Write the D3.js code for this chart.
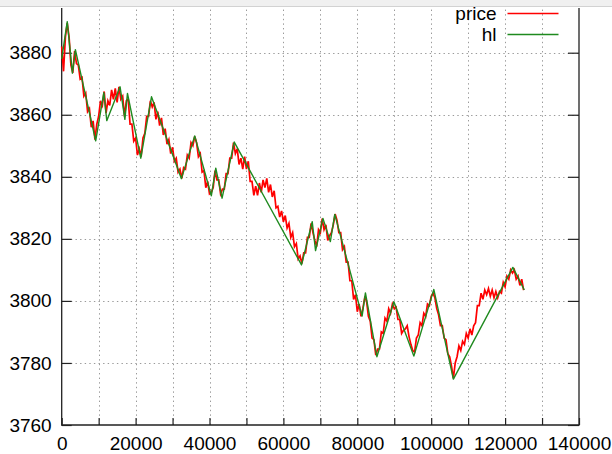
<!DOCTYPE html>
<html>
<head>
<meta charset="utf-8">
<script src="https://cdn.jsdelivr.net/npm/d3@7"></script>
<style>
  html, body { margin: 0; padding: 0; background: #fff; }
  svg { display: block; }
  .tick text { font-family: "Liberation Sans", Arial, sans-serif; font-size: 19px; fill: #000; }
</style>
</head>
<body>
<script>
// Price samples, one every priceStep time units starting at 0
const priceStep = 500;
const priceValues = [
  3882, 3874, 3885, 3889.5, 3885, 3876, 3873.5, 3880.5, 3876.5, 3876,
  3871.5, 3872, 3866, 3867, 3861, 3862, 3856, 3858, 3852, 3857,
  3859.5, 3864.5, 3863, 3867.5, 3860.5, 3864.5, 3863, 3868, 3865, 3868.5,
  3864, 3869, 3865, 3866, 3859.5, 3864.5, 3865, 3857, 3857, 3851.5,
  3852.5, 3847, 3849, 3846.5, 3852.5, 3854, 3859.5, 3859.5, 3864.5, 3862.5,
  3864, 3858.5, 3861, 3856.5, 3859, 3853.5, 3855.5, 3850.5, 3852, 3847.5,
  3849.5, 3845, 3846, 3841.5, 3842.5, 3839.5, 3843, 3842.5, 3847, 3846,
  3851, 3850, 3853, 3851, 3846.5, 3847.5, 3841.5, 3842, 3836.5, 3838.5,
  3834.5, 3835, 3836.5, 3842, 3839, 3839, 3834.5, 3836, 3836, 3841,
  3841, 3846, 3846, 3851, 3847.5, 3849, 3844, 3846, 3842.5, 3846.5,
  3842.5, 3845, 3838.5, 3838.5, 3834, 3837, 3834, 3838, 3835, 3839,
  3836.5, 3839.5, 3835, 3837.5, 3833.5, 3835.5, 3830, 3830.5, 3827, 3829,
  3825.5, 3827.5, 3823.5, 3825, 3820.5, 3822, 3817.5, 3818.5, 3813.5, 3814.5,
  3812, 3815.5, 3815.5, 3820.5, 3820.5, 3825, 3822, 3819.5, 3817.5, 3823,
  3822, 3826.5, 3823, 3824.5, 3819.5, 3821, 3822, 3824.5, 3828, 3826,
  3822, 3822, 3816.5, 3817.5, 3812.5, 3812.5, 3806.5, 3806.5, 3800.5, 3802,
  3796.5, 3799, 3795, 3797.5, 3801, 3800, 3795, 3793.5, 3788, 3787.5,
  3782.5, 3784.5, 3784.5, 3790, 3789.5, 3794.5, 3793.5, 3797.5, 3796, 3799,
  3797.5, 3798, 3794, 3794, 3789.5, 3790.5, 3791, 3792, 3788.5, 3786,
  3784, 3783.5, 3788, 3789, 3793, 3792, 3796, 3795, 3799, 3798.5,
  3801.5, 3802.5, 3801, 3797.5, 3795.5, 3792, 3792, 3788, 3787.5, 3783,
  3782, 3779, 3775, 3780, 3782, 3785.5, 3784, 3787, 3786, 3789.5,
  3788, 3791, 3789, 3792, 3793, 3798.5, 3798.5, 3802.5, 3800.5, 3803.5,
  3802, 3804, 3801.5, 3803.5, 3801, 3803, 3801, 3803, 3802.5, 3806,
  3804.5, 3808, 3807, 3810, 3809, 3810, 3807, 3808, 3805, 3807,
  3803.5
];

// Turning points of the high/low zigzag
const hlTimes = [
  0, 1500, 2900, 3700, 9200, 11400, 12200, 15800, 17100, 17800,
  21400, 24300, 32400, 36000, 40500, 41700, 43400, 46700, 64900, 67800,
  68700, 70700, 72700, 73900, 81300, 82200, 85300, 89900, 95300, 100700,
  106000, 122100, 125200
];
const hlValues = [
  3878, 3890, 3873.4, 3881, 3851.6, 3867.1, 3858.1, 3869, 3858.5, 3866.9,
  3846, 3865.8, 3839.4, 3853.2, 3833.9, 3842.8, 3833.1, 3851.2, 3811.6, 3825.5,
  3816.2, 3826.6, 3819.1, 3827.9, 3795.1, 3802.6, 3782, 3799.7, 3782.2, 3803.7,
  3774.8, 3810.8, 3803.5
];

// Axis ticks
const xTickValues = [0, 10000, 20000, 30000, 40000, 50000, 60000, 70000,
                     80000, 90000, 100000, 110000, 120000, 130000, 140000];
const xLabelValues = [0, 20000, 40000, 60000, 80000, 100000, 120000, 140000];
const yTickValues = [3760, 3780, 3800, 3820, 3840, 3860, 3880];

const seriesNames = ["price", "hl"];
const seriesColors = ["#ff0000", "#1f8a1f"];

const W = 612, H = 454;
const left = 61.7, right = 579, bottom = 425, frameTop = 8;

const svg = d3.select("body").append("svg")
  .attr("width", W).attr("height", H);

const x = d3.scaleLinear().domain([0, 140000]).range([left, right]);
const y = d3.scaleLinear().domain([3760, 3900]).range([bottom, bottom - 140 * 3.1025]);

// dotted grid
const grid = svg.append("g")
  .attr("stroke", "#9a9a9a")
  .attr("stroke-width", 1)
  .attr("stroke-dasharray", "1.4,3.2");
grid.selectAll("line.gx")
  .data(xTickValues.filter(v => v > 0 && v < 140000))
  .join("line").attr("class", "gx")
  .attr("x1", d => Math.round(x(d)) + 0.5).attr("x2", d => Math.round(x(d)) + 0.5)
  .attr("y1", bottom).attr("y2", frameTop);
grid.selectAll("line.gy")
  .data(yTickValues.filter(v => v > 3760))
  .join("line").attr("class", "gy")
  .attr("y1", d => Math.round(y(d)) + 0.5).attr("y2", d => Math.round(y(d)) + 0.5)
  .attr("x1", left).attr("x2", right);

// axes with inward ticks
const labelSet = new Set(xLabelValues);
const xAxis = d3.axisBottom(x)
  .tickValues(xTickValues)
  .tickSize(-7)
  .tickPadding(12)
  .tickFormat(d => labelSet.has(d) ? String(d) : "");
const yAxis = d3.axisLeft(y)
  .tickValues(yTickValues)
  .tickSize(-10)
  .tickPadding(10)
  .tickFormat(d => String(d));
const yAxisR = d3.axisRight(y)
  .tickValues(yTickValues)
  .tickSize(-11)
  .tickFormat("");

function styleAxis(g) {
  g.select(".domain").remove();
  g.selectAll(".tick line").attr("stroke", "#222").attr("stroke-width", 1.2);
}
svg.append("g").attr("transform", `translate(0,${bottom})`).call(xAxis).call(styleAxis);
svg.append("g").attr("transform", `translate(${left},0)`).call(yAxis).call(styleAxis);
svg.append("g").attr("transform", `translate(${right},0)`).call(yAxisR).call(styleAxis);

// frame
svg.append("path")
  .attr("d", `M${left},${frameTop}V${bottom}H${right}V${frameTop}`)
  .attr("fill", "none").attr("stroke", "#222").attr("stroke-width", 1.3);

// data lines
const priceLine = d3.line()
  .x((d, i) => x(i * priceStep))
  .y(d => y(d));
svg.append("path")
  .datum(priceValues)
  .attr("d", priceLine)
  .attr("fill", "none")
  .attr("stroke", seriesColors[0])
  .attr("stroke-width", 1.7)
  .attr("stroke-linejoin", "miter");

const hlLine = d3.line()
  .x((d, i) => x(hlTimes[i]))
  .y(d => y(d));
svg.append("path")
  .datum(hlValues)
  .attr("d", hlLine)
  .attr("fill", "none")
  .attr("stroke", seriesColors[1])
  .attr("stroke-width", 1.4)
  .attr("stroke-linejoin", "round");

// key
const key = svg.append("g");
seriesNames.forEach((name, i) => {
  const ky = 13.5 + i * 21;
  key.append("text")
    .attr("x", 496.5).attr("y", ky).attr("dy", "0.35em")
    .attr("text-anchor", "end")
    .attr("font-family", "Liberation Sans, Arial, sans-serif")
    .attr("font-size", 19)
    .text(name);
  key.append("line")
    .attr("x1", 507.5).attr("x2", 558.5)
    .attr("y1", ky).attr("y2", ky)
    .attr("stroke", seriesColors[i]).attr("stroke-width", 1.3);
});

// strip along the top edge
svg.append("rect").attr("x", 0).attr("y", 0).attr("width", W).attr("height", 6)
  .attr("fill", "#f0f0f0");
svg.append("line").attr("x1", 0).attr("x2", W).attr("y1", 6.5).attr("y2", 6.5)
  .attr("stroke", "#d2d2d2").attr("stroke-width", 1);
</script>
</body>
</html>
